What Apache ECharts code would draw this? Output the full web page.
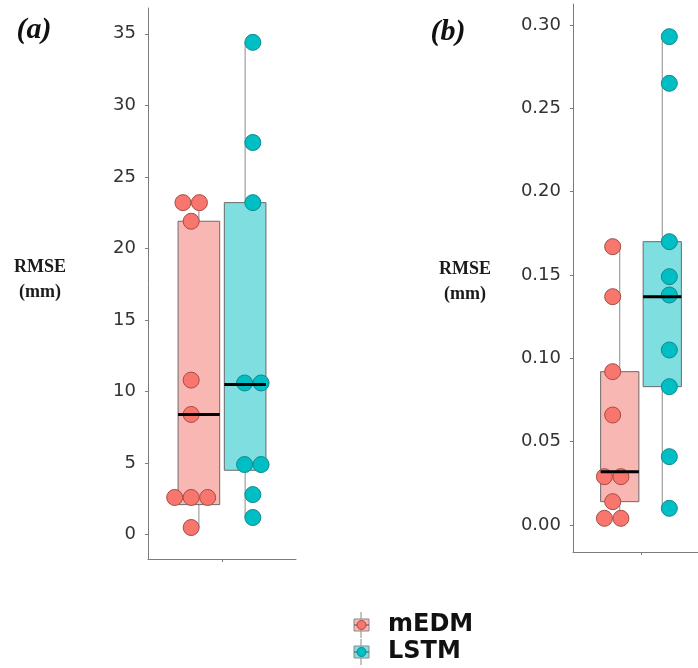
<!DOCTYPE html>
<html>
<head>
<meta charset="utf-8">
<script src="https://cdn.jsdelivr.net/npm/echarts@6/dist/echarts.min.js"></script>
<style>
  html, body { margin: 0; padding: 0; background: #ffffff; }
  #chart { width: 698px; height: 668px; }
</style>
</head>
<body>
<div id="chart"></div>
<script>
// Model names
const models = ['mEDM', 'LSTM'];

// (a) RMSE in mm, one value per test case
const mEDM_a = [23.2, 23.2, 21.9, 10.8, 8.4, 2.6, 2.6, 2.6, 0.5];
const LSTM_a = [34.4, 27.4, 23.2, 10.6, 10.6, 4.9, 4.9, 2.8, 1.2];
// (b) RMSE in mm
const mEDM_b = [0.167, 0.137, 0.092, 0.066, 0.029, 0.029, 0.014, 0.004, 0.004];
const LSTM_b = [0.293, 0.265, 0.170, 0.149, 0.138, 0.105, 0.083, 0.041, 0.010];

// Box statistics: [lower whisker, Q1, median, Q3, upper whisker]
const mEDM_a_box = [0.5, 2.1, 8.4, 21.9, 23.2];
const LSTM_a_box = [1.2, 4.5, 10.5, 23.2, 34.4];
const mEDM_b_box = [0.004, 0.014, 0.032, 0.092, 0.167];
const LSTM_b_box = [0.010, 0.083, 0.137, 0.170, 0.293];

// Tick labels
const ticks_a = [0, 5, 10, 15, 20, 25, 30, 35];
const ticks_b = [0, 0.05, 0.10, 0.15, 0.20, 0.25, 0.30];

// ---- styling ----
const POINT_COLOR = { mEDM: '#F8766D', LSTM: '#00BFC4' };
const POINT_EDGE = { mEDM: '#A44C46', LSTM: '#10898C' };
const BOX_FILL = { mEDM: '#F9B7B3', LSTM: '#7FDEE0' };
const BOX_EDGE = '#6a6a6a';
const WHISKER = '#8c8c8c';
const AXIS = '#7c7c7c';

// dodge layout within a single category centred at x = 0
const BOX_OFFSET = { mEDM: -0.1875, LSTM: 0.1875 };
const BOX_WIDTH = 0.3375;
const POINT_OFFSET = { mEDM: -0.25, LSTM: 0.25 };
const DOT = 16;         // point diameter, px
const DOT_STEP = 16.5;  // side-by-side spacing of tied values, px

// Spread tied values side by side (beeswarm style)
function swarm(values, xc) {
  const counts = {};
  values.forEach(v => { counts[v] = (counts[v] || 0) + 1; });
  const seen = {};
  return values.map(v => {
    const n = counts[v];
    const k = seen[v] = (seen[v] === undefined ? 0 : seen[v] + 1);
    return { value: [xc, v], symbolOffset: [(k - (n - 1) / 2) * DOT_STEP, 0] };
  });
}

function boxRenderer(part) {
  return function (params, api) {
    const x = api.value(0);
    const lo = api.coord([x, api.value(1)]);
    const q1 = api.coord([x, api.value(2)]);
    const md = api.coord([x, api.value(3)]);
    const q3 = api.coord([x, api.value(4)]);
    const hi = api.coord([x, api.value(5)]);
    const w = api.size([BOX_WIDTH, 0])[0];
    const name = params.seriesName;
    if (part === 'median') {
      return {
        type: 'line',
        shape: { x1: md[0] - w / 2, y1: md[1], x2: md[0] + w / 2, y2: md[1] },
        style: { stroke: '#000000', lineWidth: 3 }
      };
    }
    return {
      type: 'group',
      children: [
        { type: 'line', shape: { x1: hi[0], y1: hi[1], x2: q3[0], y2: q3[1] },
          style: { stroke: WHISKER, lineWidth: 1 } },
        { type: 'line', shape: { x1: q1[0], y1: q1[1], x2: lo[0], y2: lo[1] },
          style: { stroke: WHISKER, lineWidth: 1 } },
        { type: 'rect', shape: { x: q3[0] - w / 2, y: q3[1], width: w, height: q1[1] - q3[1] },
          style: { fill: BOX_FILL[name], stroke: BOX_EDGE, lineWidth: 1 } }
      ]
    };
  };
}

function panelSeries(idx, boxes, points) {
  const out = [];
  models.forEach((m, i) => {
    const box = [[BOX_OFFSET[m]].concat(boxes[i])];
    out.push({
      type: 'custom', name: m, xAxisIndex: idx, yAxisIndex: idx, z: 2,
      renderItem: boxRenderer('box'), data: box, silent: true, clip: false,
      encode: { x: 0, y: [1, 2, 3, 4, 5] }
    });
    out.push({
      type: 'scatter', name: m, xAxisIndex: idx, yAxisIndex: idx, z: 3,
      symbolSize: DOT, data: swarm(points[i], POINT_OFFSET[m]),
      itemStyle: { color: POINT_COLOR[m], borderColor: POINT_EDGE[m], borderWidth: 1, opacity: 1 }
    });
    out.push({
      type: 'custom', name: m, xAxisIndex: idx, yAxisIndex: idx, z: 4,
      renderItem: boxRenderer('median'), data: box, silent: true, clip: false,
      encode: { x: 0, y: [1, 2, 3, 4, 5] }
    });
  });
  return out;
}

const labelFont = { fontFamily: 'DejaVu Sans', fontSize: 18, color: '#333333' };

function xAxis(gridIndex) {
  return {
    type: 'value', gridIndex, min: -0.6, max: 0.6,
    axisLine: { show: true, onZero: false, lineStyle: { color: AXIS, width: 1 } },
    axisTick: { show: true, customValues: [0], length: 3, lineStyle: { color: AXIS } },
    axisLabel: { show: false },
    splitLine: { show: false }
  };
}

function yAxis(gridIndex, min, max, ticks, fmt) {
  return {
    type: 'value', gridIndex, min, max,
    axisLine: { show: true, onZero: false, lineStyle: { color: AXIS, width: 1 } },
    axisTick: { show: true, customValues: ticks, length: 3, lineStyle: { color: AXIS } },
    axisLabel: Object.assign({ customValues: ticks, margin: 12, formatter: fmt }, labelFont),
    splitLine: { show: false }
  };
}

function legendEntry(m, yc) {
  return {
    type: 'group',
    children: [
      { type: 'line', shape: { x1: 361, y1: yc - 13, x2: 361, y2: yc + 13 },
        style: { stroke: '#8a8a8a', lineWidth: 1 } },
      { type: 'rect', shape: { x: 354, y: yc - 6, width: 15, height: 12 },
        style: { fill: BOX_FILL[m], stroke: '#8a8a8a', lineWidth: 1 } },
      { type: 'line', shape: { x1: 354, y1: yc, x2: 369, y2: yc },
        style: { stroke: '#555555', lineWidth: 1 } },
      { type: 'circle', shape: { cx: 361.5, cy: yc, r: 4.5 },
        style: { fill: POINT_COLOR[m], stroke: POINT_EDGE[m], lineWidth: 1 } },
      { type: 'text', x: 388, y: yc,
        style: { text: m, fill: '#111111', font: 'bold 24px "DejaVu Sans"', verticalAlign: 'middle' } }
    ]
  };
}

const chart = echarts.init(document.getElementById('chart'), null, { renderer: 'canvas' });
chart.setOption({
  animation: false,
  backgroundColor: '#ffffff',
  grid: [
    { left: 148, top: 8, width: 148, height: 551, outerBoundsMode: 'none', containLabel: false },
    { left: 573, top: 4, width: 136, height: 548, outerBoundsMode: 'none', containLabel: false }
  ],
  xAxis: [xAxis(0), xAxis(1)],
  yAxis: [
    yAxis(0, -1.7, 36.8, ticks_a, v => String(v)),
    yAxis(1, -0.0162, 0.3126, ticks_b, v => v.toFixed(2))
  ],
  series: panelSeries(0, [mEDM_a_box, LSTM_a_box], [mEDM_a, LSTM_a])
    .concat(panelSeries(1, [mEDM_b_box, LSTM_b_box], [mEDM_b, LSTM_b])),
  graphic: [
    { type: 'text', x: 34, y: 30,
      style: { text: '(a)', fill: '#111111', font: 'bold italic 30px "Liberation Serif"', align: 'center', verticalAlign: 'middle' } },
    { type: 'text', x: 448, y: 32,
      style: { text: '(b)', fill: '#111111', font: 'bold italic 30px "Liberation Serif"', align: 'center', verticalAlign: 'middle' } },
    { type: 'text', x: 40, y: 280,
      style: { text: 'RMSE\n(mm)', fill: '#1a1a1a', font: 'bold 18px "Liberation Serif"', lineHeight: 25, align: 'center', verticalAlign: 'middle' } },
    { type: 'text', x: 465, y: 282,
      style: { text: 'RMSE\n(mm)', fill: '#1a1a1a', font: 'bold 18px "Liberation Serif"', lineHeight: 25, align: 'center', verticalAlign: 'middle' } },
    legendEntry('mEDM', 625),
    legendEntry('LSTM', 652)
  ]
});
</script>
</body>
</html>
